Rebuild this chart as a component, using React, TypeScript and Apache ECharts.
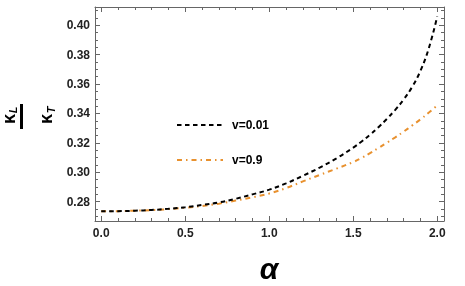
import React, { useEffect, useRef } from "react";
import * as echarts from "echarts";

const alpha = [0, 0.1, 0.2, 0.3, 0.4, 0.5, 0.6, 0.7, 0.8, 0.9, 1.0, 1.1, 1.2, 1.3, 1.4, 1.5, 1.55, 1.6, 1.65, 1.7, 1.75, 1.8, 1.85, 1.9, 1.95, 2.0];
const v001 = [0.2735, 0.2736, 0.2739, 0.2744, 0.2752, 0.2763, 0.2778, 0.2795, 0.282, 0.285, 0.2882, 0.2925, 0.2976, 0.3032, 0.3095, 0.3168, 0.321, 0.3256, 0.3307, 0.3363, 0.3425, 0.3495, 0.358, 0.369, 0.3845, 0.406];
const v09 = [0.2735, 0.2736, 0.2739, 0.2743, 0.275, 0.2759, 0.2771, 0.2787, 0.2808, 0.283, 0.2856, 0.2893, 0.2938, 0.2982, 0.3025, 0.307, 0.3098, 0.3131, 0.3165, 0.3201, 0.3238, 0.3277, 0.3318, 0.336, 0.3406, 0.3455];
const seriesNames = ["v=0.01", "v=0.9"];
const xMajorTicks = [0, 0.5, 1.0, 1.5, 2.0];
const yMajorTicks = [0.28, 0.3, 0.32, 0.34, 0.36, 0.38, 0.4];

const X_MIN = -0.037;
const X_MAX = 2.04;
const Y_MIN = 0.2669;
const Y_MAX = 0.4124;

const xMinorTicks: number[] = [];
for (let i = 0; i <= 20; i++) xMinorTicks.push(+(i * 0.1).toFixed(2));
const yMinorTicks: number[] = [];
for (let i = 0; i <= 40; i++) {
  const v = +(0.265 + i * 0.005).toFixed(3);
  if (v > Y_MIN && v < Y_MAX) yMinorTicks.push(v);
}

const FRAME = "#666666";
const FONT = "'Liberation Sans', Arial, sans-serif";
const BLACK = "#000000";
const ORANGE = "#E8912F";
const BLACK_DASH = [4.5, 3.5];
const ORANGE_DASH = [5, 4, 1.5, 4];

export default function App() {
  const ref = useRef<HTMLDivElement>(null);
  useEffect(() => {
    if (!ref.current) return;
    const chart = echarts.init(ref.current, null, { renderer: "svg" });
    const line = { show: true, onZero: false, lineStyle: { color: FRAME, width: 1 } };
    const noLine = { show: false, onZero: false };
    const tickStyle = { color: FRAME, width: 1 };
    const labelStyle = { color: "#222", fontFamily: FONT, fontWeight: "bold" as const, fontSize: 12 };
    const xBase = { type: "value" as const, min: X_MIN, max: X_MAX, splitLine: { show: false } };
    const yBase = { type: "value" as const, min: Y_MIN, max: Y_MAX, splitLine: { show: false } };
    const black = v001.map((y, i) => [alpha[i], y]);
    const orange = v09.map((y, i) => [alpha[i], y]);
    const legendItem = (y: number, color: string, dash: number[], text: string) => ({
      type: "group",
      children: [
        { type: "line", shape: { x1: 177, y1: y, x2: 223, y2: y }, style: { stroke: color, lineWidth: 2, lineDash: dash } },
        { type: "text", x: 232, y, style: { text, fill: "#000", font: `bold 12px ${FONT}`, align: "left", verticalAlign: "middle" } },
      ],
    });
    chart.setOption({
      animation: false,
      grid: { left: 95, top: 7, width: 349, height: 214 },
      xAxis: [
        { ...xBase, position: "bottom", axisLine: line,
          axisTick: { inside: true, length: 5, customValues: xMajorTicks, lineStyle: tickStyle },
          axisLabel: { customValues: xMajorTicks, margin: 6, formatter: (v: number) => v.toFixed(1), ...labelStyle } },
        { ...xBase, position: "bottom", axisLine: noLine,
          axisTick: { inside: true, length: 3, customValues: xMinorTicks, lineStyle: tickStyle },
          axisLabel: { show: false } },
        { ...xBase, position: "top", axisLine: line,
          axisTick: { inside: true, length: 5, customValues: xMajorTicks, lineStyle: tickStyle },
          axisLabel: { show: false } },
        { ...xBase, position: "top", axisLine: noLine,
          axisTick: { inside: true, length: 3, customValues: xMinorTicks, lineStyle: tickStyle },
          axisLabel: { show: false } },
      ],
      yAxis: [
        { ...yBase, position: "left", axisLine: line,
          axisTick: { inside: true, length: 5, customValues: yMajorTicks, lineStyle: tickStyle },
          axisLabel: { customValues: yMajorTicks, margin: 5, formatter: (v: number) => v.toFixed(2), ...labelStyle } },
        { ...yBase, position: "left", axisLine: noLine,
          axisTick: { inside: true, length: 3, customValues: yMinorTicks, lineStyle: tickStyle },
          axisLabel: { show: false } },
        { ...yBase, position: "right", axisLine: line,
          axisTick: { inside: true, length: 5, customValues: yMajorTicks, lineStyle: tickStyle },
          axisLabel: { show: false } },
        { ...yBase, position: "right", axisLine: noLine,
          axisTick: { inside: true, length: 3, customValues: yMinorTicks, lineStyle: tickStyle },
          axisLabel: { show: false } },
      ],
      series: [
        {
          name: seriesNames[1], type: "line", data: orange, smooth: 0.4, showSymbol: false, symbol: "none",
          xAxisIndex: 0, yAxisIndex: 0,
          lineStyle: { color: ORANGE, width: 2, type: ORANGE_DASH },
          itemStyle: { color: ORANGE },
        },
        {
          name: seriesNames[0], type: "line", data: black, smooth: 0.4, showSymbol: false, symbol: "none",
          xAxisIndex: 0, yAxisIndex: 0,
          lineStyle: { color: BLACK, width: 2, type: BLACK_DASH },
          itemStyle: { color: BLACK },
        },
      ],
      graphic: [
        legendItem(125, BLACK, BLACK_DASH, seriesNames[0]),
        legendItem(160, ORANGE, ORANGE_DASH, seriesNames[1]),
        { type: "text", x: 269, y: 268, style: { text: "α", fill: "#000", font: `italic bold 30px ${FONT}`, align: "center", verticalAlign: "middle" } },
        { type: "group", x: 9, y: 119, rotation: Math.PI / 2, children: [
          { type: "text", x: 0, y: 0, style: { text: "κ", fill: "#000", font: `bold 18px ${FONT}`, align: "center", verticalAlign: "middle" } },
          { type: "text", x: 9, y: 4, style: { text: "L", fill: "#000", font: `italic bold 11px ${FONT}`, align: "center", verticalAlign: "middle" } },
        ] },
        { type: "rect", shape: { x: 20, y: 104, width: 3, height: 25 }, style: { fill: "#000" } },
        { type: "group", x: 46, y: 119, rotation: Math.PI / 2, children: [
          { type: "text", x: 0, y: 0, style: { text: "κ", fill: "#000", font: `bold 18px ${FONT}`, align: "center", verticalAlign: "middle" } },
          { type: "text", x: 9, y: 5, style: { text: "T", fill: "#000", font: `italic bold 11px ${FONT}`, align: "center", verticalAlign: "middle" } },
        ] },
      ],
    });
    return () => chart.dispose();
  }, []);
  return <div ref={ref} style={{ position: "fixed", left: 0, top: 0, width: 465, height: 286 }} />;
}
